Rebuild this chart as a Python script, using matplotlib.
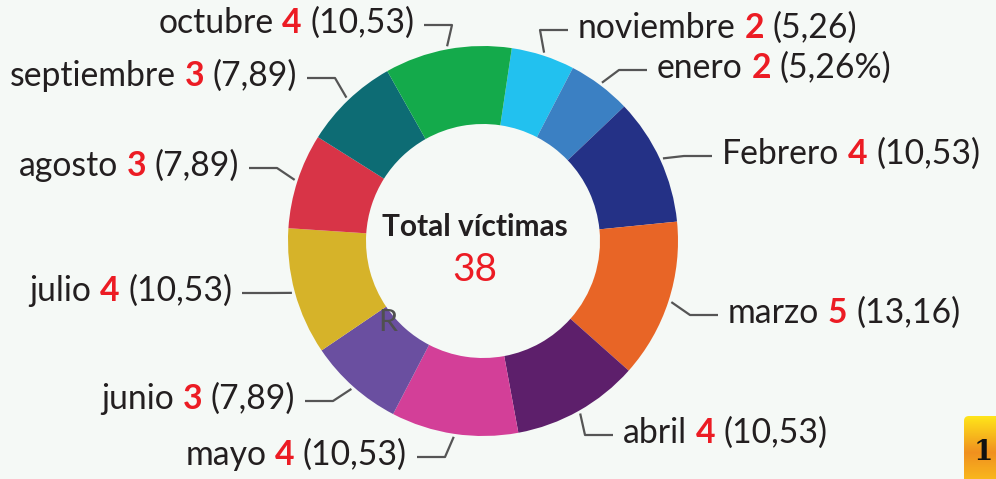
import matplotlib.pyplot as plt
import numpy as np
from matplotlib.patches import FancyBboxPatch
from matplotlib.colors import LinearSegmentedColormap

# datos (sentido horario desde arriba)
meses = ['noviembre', 'enero', 'Febrero', 'marzo', 'abril', 'mayo',
         'junio', 'julio', 'agosto', 'septiembre', 'octubre']
victimas = [2, 2, 4, 5, 4, 4, 3, 4, 3, 3, 4]
porcentajes = ['5,26', '5,26%', '10,53', '13,16', '10,53', '10,53',
               '7,89', '10,53', '7,89', '7,89', '10,53']
colores = ['#22c1ef', '#3b80c3', '#243186', '#e86526', '#5d1f6b', '#d33f98',
           '#6a4fa0', '#d6b329', '#d83447', '#0d6c74', '#14aa4b']
total = sum(victimas)

# layout de las etiquetas (pixeles, y hacia abajo): codo de la linea y lado
codos = [(540, 30), (619, 70), (684, 156), (690, 315), (585, 435), (445, 457),
         (333, 401), (270, 293), (277, 168), (335, 78), (452, 25)]
lados = ['r', 'r', 'r', 'r', 'r', 'l', 'l', 'l', 'l', 'l', 'l']

W, H = 996, 479
BG = '#f5f9f6'
OSCURO = '#231f20'
ROJO = '#ec1c24'
FUENTE = 'Lato'

fig = plt.figure(figsize=(W / 100, H / 100), dpi=100, facecolor=BG)
ax = fig.add_axes([0, 0, 1, 1])
ax.set_facecolor(BG)

cx, cy, R = 483, H - 241, 195
start = 81.5
wedges, _ = ax.pie(victimas, colors=colores, startangle=start, counterclock=False,
                   center=(cx, cy), radius=R,
                   wedgeprops=dict(width=R * 0.4, edgecolor='none'))
ax.set_xlim(0, W)
ax.set_ylim(0, H)
ax.set_aspect('equal')
ax.axis('off')

renderer = fig.canvas.get_renderer()


def ancho(t):
    return t.get_window_extent(renderer).width


def espacio(size):
    a = ax.text(0, 0, 'x x', fontsize=size, family=FUENTE)
    b = ax.text(0, 0, 'xx', fontsize=size, family=FUENTE)
    s = ancho(a) - ancho(b)
    a.remove()
    b.remove()
    return s


FS = 24.3
sp = espacio(FS)

for w, mes, v, p, (ex, ey), lado in zip(wedges, meses, victimas, porcentajes, codos, lados):
    ang = np.deg2rad((w.theta1 + w.theta2) / 2)
    x0 = cx + (R + 3) * np.cos(ang)
    y0 = cy + (R + 3) * np.sin(ang)
    ey = H - ey
    d = 28 if lado == 'r' else -28
    ax.plot([x0, ex, ex + d], [y0, ey, ey], color='#555555', lw=1.6,
            solid_capstyle='butt')
    ty = ey + 2
    piezas = [(mes, OSCURO, 'normal'), (str(v), ROJO, 'bold'), ('(' + p + ')', OSCURO, 'normal')]
    if lado == 'r':
        x = ex + d + 10
        for t, c, fw in piezas:
            tx = ax.text(x, ty, t, color=c, fontweight=fw, fontsize=FS, family=FUENTE,
                         ha='left', va='center')
            x += ancho(tx) + sp
    else:
        x = ex + d - 10
        for t, c, fw in reversed(piezas):
            tx = ax.text(x, ty, t, color=c, fontweight=fw, fontsize=FS, family=FUENTE,
                         ha='right', va='center')
            x -= ancho(tx) + sp

# texto central
ax.text(cx - 8, H - 227, 'Total víctimas', fontsize=21.5, fontweight='bold', color=OSCURO,
        family=FUENTE, ha='center', va='center')
ax.text(cx - 8, H - 270, str(total), fontsize=28, color=ROJO,
        family=FUENTE, ha='center', va='center')
ax.text(388, H - 322, 'R', fontsize=22, color='#505050', family=FUENTE,
        ha='center', va='center')

# recuadro amarillo (cortado por el borde)
caja = FancyBboxPatch((964, H - 479 - 10), 60, 73, boxstyle='round,pad=0,rounding_size=5',
                      facecolor='none', edgecolor='none')
ax.add_patch(caja)
grad = LinearSegmentedColormap.from_list('g', ['#ffe51a', '#f0901f', '#fcc51c'])
img = ax.imshow(np.linspace(0, 1, 100).reshape(-1, 1), cmap=grad, aspect='auto',
                extent=(964, 1024, H - 479 - 10, H - 416), origin='upper', zorder=2)
img.set_clip_path(caja)
ax.text(974, H - 453, '1', fontsize=20, fontweight='bold', color='#111111',
        family='DejaVu Serif', ha='left', va='center', zorder=3)
ax.set_xlim(0, W)
ax.set_ylim(0, H)

fig.savefig('out.png', dpi=100, facecolor=BG)
